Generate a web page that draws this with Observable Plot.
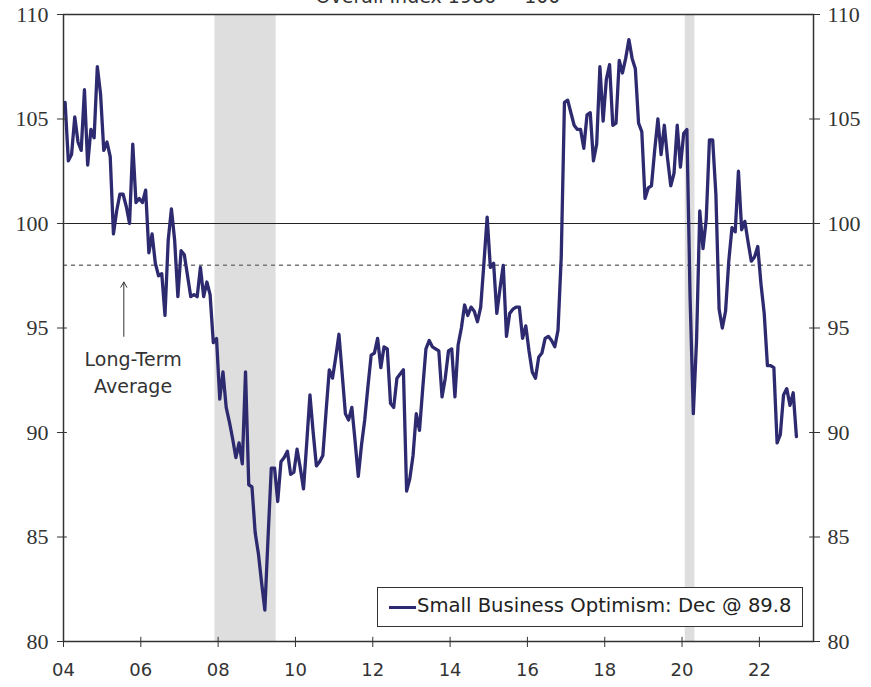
<!DOCTYPE html>
<html>
<head>
<meta charset="utf-8">
<script src="https://cdn.jsdelivr.net/npm/d3@7"></script>
<script src="https://cdn.jsdelivr.net/npm/@observablehq/plot@0.6"></script>
<style>
  body { margin: 0; background: #fff; }
  #wrap { position: relative; width: 871px; height: 687px; overflow: hidden; background: #fff; }
  #title { position: absolute; left: 0; width: 876px; top: -13px; text-align: center; font: 19px "DejaVu Sans", sans-serif; color: #333; line-height: 19px; }
  #legend { position: absolute; left: 377px; top: 587px; width: 426px; height: 40px; border: 1px solid #333; background: #fff; box-sizing: border-box; }
  #legend .sw { position: absolute; left: 11px; top: 18px; width: 27px; height: 3px; background: #2d2a70; }
  #legend .lbl { position: absolute; left: 39px; top: 7px; font: 19.6px "DejaVu Sans", sans-serif; color: #222; white-space: nowrap; line-height: 22px; }
</style>
</head>
<body>
<div id="wrap">
  <div id="chart"></div>
  <div id="title">Overall Index 1986 = 100</div>
  <div id="legend"><div class="sw"></div><div class="lbl">Small Business Optimism: Dec @ 89.8</div></div>
</div>
<script>
// NFIB Small Business Optimism Index, monthly, 1986 = 100
const v2004 = [105.8, 103.0, 103.3, 105.1, 103.9, 103.5, 106.4, 102.8, 104.5, 104.1, 107.5, 106.2];
const v2005 = [103.5, 103.9, 103.2, 99.5, 100.6, 101.4, 101.4, 100.8, 100.0, 103.8, 101.0, 101.2];
const v2006 = [101.0, 101.6, 98.6, 99.5, 98.1, 97.5, 97.6, 95.6, 99.2, 100.7, 99.2, 96.5];
const v2007 = [98.7, 98.5, 97.5, 96.5, 96.6, 96.5, 97.9, 96.5, 97.2, 96.6, 94.3, 94.5];
const v2008 = [91.6, 92.9, 91.2, 90.5, 89.7, 88.8, 89.5, 88.5, 92.9, 87.5, 87.4, 85.2];
const v2009 = [84.2, 82.8, 81.5, 85.0, 88.3, 88.3, 86.7, 88.6, 88.8, 89.1, 88.0, 88.1];
const v2010 = [89.2, 88.3, 87.3, 89.5, 91.8, 90.0, 88.4, 88.6, 88.9, 91.0, 93.0, 92.6];
const v2011 = [93.6, 94.7, 92.8, 90.9, 90.6, 91.2, 89.6, 87.9, 89.4, 90.6, 92.2, 93.7];
const v2012 = [93.8, 94.5, 93.1, 94.1, 94.0, 91.4, 91.2, 92.6, 92.8, 93.0, 87.2, 87.8];
const v2013 = [88.9, 90.9, 90.1, 92.1, 94.0, 94.4, 94.1, 94.0, 93.9, 91.7, 92.6, 93.9];
const v2014 = [94.0, 91.7, 94.2, 95.0, 96.1, 95.6, 96.0, 95.8, 95.3, 96.0, 98.1, 100.3];
const v2015 = [97.9, 98.1, 95.7, 96.9, 98.0, 94.6, 95.7, 95.9, 96.0, 96.0, 94.5, 95.1];
const v2016 = [93.9, 92.9, 92.6, 93.6, 93.8, 94.5, 94.6, 94.4, 94.1, 94.9, 98.4, 105.8];
const v2017 = [105.9, 105.3, 104.7, 104.5, 104.5, 103.6, 105.2, 105.3, 103.0, 103.8, 107.5, 104.9];
const v2018 = [106.9, 107.6, 104.7, 104.8, 107.8, 107.2, 107.9, 108.8, 107.9, 107.4, 104.8, 104.4];
const v2019 = [101.2, 101.7, 101.8, 103.5, 105.0, 103.3, 104.7, 103.1, 101.8, 102.4, 104.7, 102.7];
const v2020 = [104.3, 104.5, 96.4, 90.9, 94.4, 100.6, 98.8, 100.2, 104.0, 104.0, 101.4, 95.9];
const v2021 = [95.0, 95.8, 98.2, 99.8, 99.6, 102.5, 99.7, 100.1, 99.1, 98.2, 98.4, 98.9];
const v2022 = [97.1, 95.7, 93.2, 93.2, 93.1, 89.5, 89.9, 91.8, 92.1, 91.3, 91.9, 89.8];

const years = [2004, 2005, 2006, 2007, 2008, 2009, 2010, 2011, 2012, 2013, 2014, 2015, 2016, 2017, 2018, 2019, 2020, 2021, 2022];
const yearValues = [v2004, v2005, v2006, v2007, v2008, v2009, v2010, v2011, v2012, v2013, v2014, v2015, v2016, v2017, v2018, v2019, v2020, v2021, v2022];

// Recessions (decimal years)
const recessionStart = [2007.917, 2020.083];
const recessionEnd = [2009.5, 2020.333];

const xTicks = [2004, 2006, 2008, 2010, 2012, 2014, 2016, 2018, 2020, 2022];
const yTicks = [80, 85, 90, 95, 100, 105, 110];
const longTermAverage = 98;

const annotation = [{x: 2005.56, yFrom: 94.6, yTo: 97.2, tx: 2005.8, ty: 92.95, label: "Long-Term\nAverage"}];

const series = [];
years.forEach((yr, i) => yearValues[i].forEach((v, m) => series.push({t: yr + (m + 0.5) / 12, v})));
const recessions = recessionStart.map((s, i) => ({start: s, end: recessionEnd[i]}));

const chart = Plot.plot({
  width: 871,
  height: 687,
  marginLeft: 63,
  marginRight: 58,
  marginTop: 14,
  marginBottom: 46,
  style: {background: "#fff", color: "#333", fontFamily: "DejaVu Sans, sans-serif", overflow: "visible"},
  x: {domain: [2004, 2023.4]},
  y: {domain: [80, 110]},
  marks: [
    Plot.rect(recessions, {x1: "start", x2: "end", y1: 80, y2: 110, fill: "#dedede"}),
    Plot.ruleY([longTermAverage], {stroke: "#777", strokeWidth: 1.5, strokeDasharray: "4,4"}),
    Plot.ruleY([100], {stroke: "#222", strokeWidth: 1.2}),
    Plot.line(series, {x: "t", y: "v", stroke: "#2d2a70", strokeWidth: 3.3, strokeLinejoin: "round"}),
    Plot.frame({stroke: "#333", strokeWidth: 1.5}),
    Plot.axisY(yTicks, {anchor: "left", tickSize: 6, tickPadding: 9, fontSize: 22, fontFamily: "Liberation Serif, serif", label: null}),
    Plot.axisY(yTicks, {anchor: "right", tickSize: 6, tickPadding: 8, fontSize: 22, fontFamily: "Liberation Serif, serif", label: null}),
    Plot.ruleY(yTicks, {x1: 2004, x2: 2004.1, stroke: "#333", strokeWidth: 1}),
    Plot.ruleY(yTicks, {x1: 2023.3, x2: 2023.4, stroke: "#333", strokeWidth: 1}),
    Plot.axisX(xTicks, {anchor: "bottom", tickSize: 6, tickPadding: 16, fontSize: 18, tickFormat: d => String(d % 100).padStart(2, "0"), label: null}),
    Plot.ruleX(xTicks, {y1: 80, y2: 80.2, stroke: "#333", strokeWidth: 1}),
    Plot.arrow(annotation, {x1: "x", y1: "yFrom", x2: "x", y2: "yTo", stroke: "#333", strokeWidth: 1, headLength: 9}),
    Plot.text(annotation, {x: "tx", y: "ty", text: "label", fontSize: 19, lineHeight: 1.45, fill: "#333"})
  ]
});
document.getElementById("chart").appendChild(chart);
</script>
</body>
</html>
